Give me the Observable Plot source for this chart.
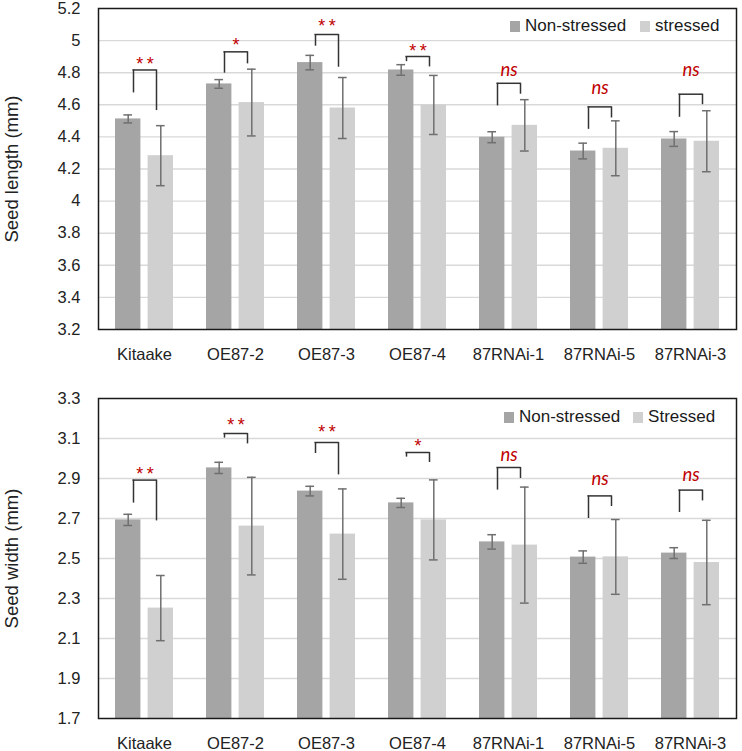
<!DOCTYPE html>
<html>
<head>
<meta charset="utf-8">
<script src="https://cdn.jsdelivr.net/npm/d3@7"></script>
<script src="https://cdn.jsdelivr.net/npm/@observablehq/plot@0.6"></script>
<style>
  body { margin: 0; background: #fff; font-family: "Liberation Sans", Arial, sans-serif; }
  #wrap { position: relative; width: 742px; }
  .chart { position: relative; }
  .legend { position: absolute; display: flex; align-items: center; font-size: 17px; color: #1a1a1a; white-space: nowrap; }
  .legend .item { display: flex; align-items: center; }
  .legend .sw { width: 10px; height: 11px; margin-right: 5px; }
</style>
</head>
<body>
<div id="wrap"></div>
<script>
const categories = ["Kitaake", "OE87-2", "OE87-3", "OE87-4", "87RNAi-1", "87RNAi-5", "87RNAi-3"];
const seriesNames = ["Non-stressed", "Stressed"];

// Seed length (mm)
const lengthNonStressed = [4.512, 4.730, 4.863, 4.817, 4.398, 4.312, 4.387];
const lengthNonStressedErr = [0.025, 0.027, 0.045, 0.033, 0.034, 0.049, 0.046];
const lengthStressed = [4.283, 4.614, 4.580, 4.599, 4.472, 4.329, 4.373];
const lengthStressedErr = [0.187, 0.208, 0.190, 0.184, 0.160, 0.171, 0.190];
const lengthSig = ["**", "*", "**", "**", "ns", "ns", "ns"];
const lengthBracketTop = [4.817, 4.930, 5.038, 4.901, 4.734, 4.587, 4.666];
const lengthBracketLeft = [4.674, 4.797, 4.965, 4.869, 4.593, 4.447, 4.522];
const lengthBracketRight = [4.564, 4.855, 4.834, 4.836, 4.666, 4.518, 4.601];
const lengthSigY = [4.865, 4.986, 5.100, 4.948, 4.809, 4.697, 4.813];
const lengthTicks = [3.2, 3.4, 3.6, 3.8, 4, 4.2, 4.4, 4.6, 4.8, 5, 5.2];
const lengthLegend = ["Non-stressed", "stressed"];

// Seed width (mm)
const widthNonStressed = [2.693, 2.953, 2.837, 2.778, 2.583, 2.507, 2.527];
const widthNonStressedErr = [0.028, 0.028, 0.024, 0.023, 0.036, 0.031, 0.027];
const widthStressed = [2.252, 2.662, 2.622, 2.693, 2.567, 2.508, 2.480];
const widthStressedErr = [0.163, 0.244, 0.226, 0.200, 0.290, 0.187, 0.211];
const widthSig = ["**", "**", "**", "*", "ns", "ns", "ns"];
const widthBracketTop = [2.892, 3.125, 3.080, 3.030, 2.955, 2.813, 2.842];
const widthBracketLeft = [2.777, 3.102, 3.025, 3.007, 2.842, 2.700, 2.730];
const widthBracketRight = [2.688, 3.073, 2.918, 2.980, 2.900, 2.760, 2.788];
const widthSigY = [2.930, 3.178, 3.143, 3.072, 3.013, 2.890, 2.913];
const widthTicks = [1.7, 1.9, 2.1, 2.3, 2.5, 2.7, 2.9, 3.1, 3.3];
const widthLegend = ["Non-stressed", "Stressed"];

const colorNS = "#a5a5a5";
const colorS = "#d0d0d0";
const errColor = "#6f6f6f";
const bracketColor = "#333333";
const sigColor = "#c00000";
const font = "'Liberation Sans', Arial, sans-serif";

function makeChart(cfg) {
  const rows = categories.map((c, i) => ({
    cat: c,
    ns: cfg.ns[i], nsErr: cfg.nsErr[i],
    s: cfg.s[i], sErr: cfg.sErr[i],
    sig: cfg.sig[i], top: cfg.top[i], left: cfg.left[i], right: cfg.right[i], sigY: cfg.sigY[i]
  }));
  const yMin = cfg.ticks[0], yMax = cfg.ticks[cfg.ticks.length - 1];
  const barW = 25.7, band = 58.3, half = 16.3, cap = 9;
  const capIn = band / 2 - half - cap / 2;
  const fmt = d => String(+d.toFixed(1));
  const stars = rows.filter(d => d.sig !== "ns");
  const ns = rows.filter(d => d.sig === "ns");
  const plot = Plot.plot({
    width: 742,
    height: cfg.height,
    marginTop: cfg.marginTop,
    marginBottom: cfg.marginBottom,
    marginLeft: 98,
    marginRight: 6,
    style: { fontFamily: font, background: "#fff" },
    x: { domain: categories, paddingInner: 0.36, paddingOuter: 0.18, label: null },
    y: { domain: [yMin, yMax], label: null },
    marks: [
      Plot.gridY(cfg.ticks.slice(1, -1), { stroke: "#d9d9d9", strokeOpacity: 1, strokeWidth: 1.4 }),
      Plot.barY(rows, { x: "cat", y1: yMin, y2: "ns", fill: colorNS, insetLeft: 0, insetRight: band - barW }),
      Plot.barY(rows, { x: "cat", y1: yMin, y2: "s", fill: colorS, insetLeft: band - barW, insetRight: 0 }),
      // error bars
      Plot.ruleX(rows, { x: "cat", y1: d => d.ns - d.nsErr, y2: d => d.ns + d.nsErr, dx: -half, stroke: errColor, strokeWidth: 1.5 }),
      Plot.tickY(rows, { x: "cat", y: d => d.ns - d.nsErr, insetLeft: capIn, insetRight: band - capIn - cap, stroke: errColor, strokeWidth: 1.5 }),
      Plot.tickY(rows, { x: "cat", y: d => d.ns + d.nsErr, insetLeft: capIn, insetRight: band - capIn - cap, stroke: errColor, strokeWidth: 1.5 }),
      Plot.ruleX(rows, { x: "cat", y1: d => d.s - d.sErr, y2: d => d.s + d.sErr, dx: half, stroke: errColor, strokeWidth: 1.5 }),
      Plot.tickY(rows, { x: "cat", y: d => d.s - d.sErr, insetLeft: band - capIn - cap, insetRight: capIn, stroke: errColor, strokeWidth: 1.5 }),
      Plot.tickY(rows, { x: "cat", y: d => d.s + d.sErr, insetLeft: band - capIn - cap, insetRight: capIn, stroke: errColor, strokeWidth: 1.5 }),
      // significance brackets
      Plot.ruleX(rows, { x: "cat", y1: "left", y2: "top", dx: -11, stroke: bracketColor, strokeWidth: 1.5 }),
      Plot.ruleX(rows, { x: "cat", y1: "right", y2: "top", dx: 12, stroke: bracketColor, strokeWidth: 1.5 }),
      Plot.tickY(rows, { x: "cat", y: "top", insetLeft: band / 2 - 11.7, insetRight: band / 2 - 12.7, stroke: bracketColor, strokeWidth: 1.5 }),
      Plot.text(stars, { x: "cat", y: "sigY", text: d => d.sig.split("").join("\u2009"), fill: sigColor, fontSize: 18, lineAnchor: "middle", dy: 2, dx: 0.5 }),
      Plot.text(ns, { x: "cat", y: "sigY", text: "sig", fill: sigColor, fontSize: 18.5, fontStyle: "italic", fontFamily: "Lato, 'Liberation Sans', sans-serif", lineAnchor: "middle", dy: -1, dx: 0.5 }),
      Plot.frame({ stroke: "#1a1a1a", strokeWidth: 1.5 }),
      Plot.axisY({ ticks: cfg.ticks, tickFormat: fmt, tickSize: 0, tickPadding: 18, fontSize: 16.5, fill: "#222", label: null }),
      Plot.axisX({ tickSize: 0, tickPadding: 19, fontSize: 16.5, fill: "#222", label: null }),
      Plot.text([cfg.yLabel], { frameAnchor: "left", rotate: -90, dx: -86, fontSize: 18.5, fill: "#222", lineAnchor: "middle", textAnchor: "middle" })
    ]
  });
  const div = document.createElement("div");
  div.className = "chart";
  div.appendChild(plot);
  const lg = document.createElement("div");
  lg.className = "legend";
  lg.style.left = cfg.legendLeft + "px";
  lg.style.top = cfg.legendTop + "px";
  cfg.legend.forEach((name, i) => {
    const it = document.createElement("div");
    it.className = "item";
    if (i > 0) it.style.marginLeft = cfg.legendGap + "px";
    const sw = document.createElement("span");
    sw.className = "sw";
    sw.style.background = i === 0 ? colorNS : colorS;
    const tx = document.createElement("span");
    tx.textContent = name;
    it.appendChild(sw); it.appendChild(tx);
    lg.appendChild(it);
  });
  div.appendChild(lg);
  return div;
}

const wrap = document.getElementById("wrap");
wrap.appendChild(makeChart({
  ns: lengthNonStressed, nsErr: lengthNonStressedErr, s: lengthStressed, sErr: lengthStressedErr,
  sig: lengthSig, top: lengthBracketTop, left: lengthBracketLeft, right: lengthBracketRight, sigY: lengthSigY,
  ticks: lengthTicks, yLabel: "Seed length (mm)", legend: lengthLegend,
  height: 372, marginTop: 8, marginBottom: 43,
  legendLeft: 510, legendTop: 16, legendGap: 14
}));
wrap.appendChild(makeChart({
  ns: widthNonStressed, nsErr: widthNonStressedErr, s: widthStressed, sErr: widthStressedErr,
  sig: widthSig, top: widthBracketTop, left: widthBracketLeft, right: widthBracketRight, sigY: widthSigY,
  ticks: widthTicks, yLabel: "Seed width (mm)", legend: widthLegend,
  height: 379, marginTop: 26, marginBottom: 33,
  legendLeft: 504, legendTop: 35, legendGap: 13
}));
</script>
</body>
</html>
